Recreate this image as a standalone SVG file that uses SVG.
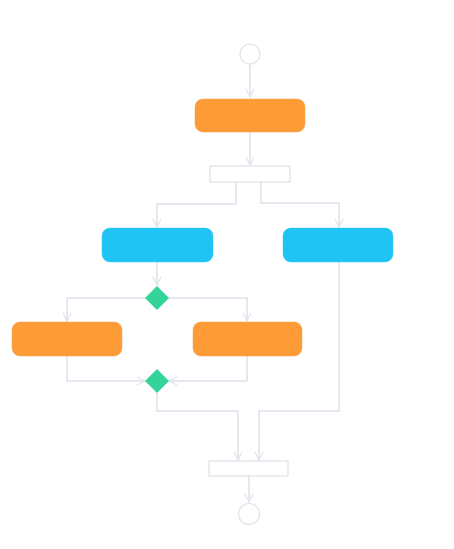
<svg xmlns="http://www.w3.org/2000/svg" width="454" height="549" viewBox="0 0 454 549">
<defs>
<style>
.edge{fill:none;stroke:#dde2ea;stroke-width:1.5}
.orange{fill:#fd9b37;stroke:#f5a050;stroke-width:0.5}
.blue{fill:#1fc4f5;stroke:#3cc8f0;stroke-width:0.5}
.dia{fill:#34d399}
.bar{fill:#ffffff;stroke:#dde2ea;stroke-width:1.2}
.term{fill:#ffffff;stroke:#dde2ea;stroke-width:1.2}
</style>
<marker id="arr" viewBox="0 0 12 12" refX="11" refY="6" markerWidth="10" markerHeight="10" markerUnits="userSpaceOnUse" orient="auto">
<path d="M1,1 L11,6 L1,11" fill="none" stroke="#dde2ea" stroke-width="1.3"/>
</marker>
</defs>
<rect width="454" height="549" fill="#ffffff"/>
<g id="connectors">
<path class="edge" d="M250,64 V97" marker-end="url(#arr)"/>
<path class="edge" d="M250,132 V165" marker-end="url(#arr)"/>
<path class="edge" d="M236,182 V204 H157 V227" marker-end="url(#arr)"/>
<path class="edge" d="M261,182 V203 H339 V227" marker-end="url(#arr)"/>
<path class="edge" d="M157,262 V285" marker-end="url(#arr)"/>
<path class="edge" d="M146,298 H67 V321" marker-end="url(#arr)"/>
<path class="edge" d="M168,298 H247 V321" marker-end="url(#arr)"/>
<path class="edge" d="M67,356 V381 H145" marker-end="url(#arr)"/>
<path class="edge" d="M247,356 V381 H169" marker-end="url(#arr)"/>
<path class="edge" d="M157,393 V411 H238 V460" marker-end="url(#arr)"/>
<path class="edge" d="M339,262 V411 H259 V460" marker-end="url(#arr)"/>
<path class="edge" d="M249,476 V502" marker-end="url(#arr)"/>
</g>
<g id="start"><circle class="term" cx="250" cy="54" r="10"/></g>
<g id="action1"><rect class="orange" x="195" y="99" width="110" height="33" rx="8"/></g>
<g id="fork"><rect class="bar" x="210" y="166" width="80" height="16"/></g>
<g id="action2"><rect class="blue" x="102" y="228" width="111" height="34" rx="8"/></g>
<g id="action3"><rect class="blue" x="283" y="228" width="110" height="34" rx="8"/></g>
<g id="decision"><polygon class="dia" points="157,286 169,298 157,310 145,298"/></g>
<g id="action4"><rect class="orange" x="12" y="322" width="110" height="34" rx="8"/></g>
<g id="action5"><rect class="orange" x="193" y="322" width="109" height="34" rx="8"/></g>
<g id="merge"><polygon class="dia" points="157,369 169,381 157,393 145,381"/></g>
<g id="join"><rect class="bar" x="209" y="461" width="79" height="15"/></g>
<g id="end"><circle class="term" cx="249" cy="514" r="10.5"/></g>
</svg>
